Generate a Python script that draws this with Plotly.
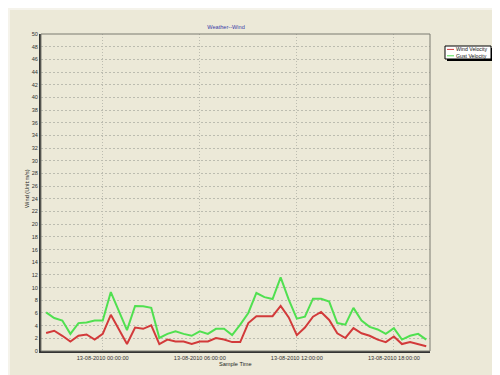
import plotly.graph_objects as go

sample_time = [
    "2010-08-12 20:30", "2010-08-12 21:00", "2010-08-12 21:30", "2010-08-12 22:00",
    "2010-08-12 22:30", "2010-08-12 23:00", "2010-08-12 23:30", "2010-08-13 00:00",
    "2010-08-13 00:30", "2010-08-13 01:00", "2010-08-13 01:30", "2010-08-13 02:00",
    "2010-08-13 02:30", "2010-08-13 03:00", "2010-08-13 03:30", "2010-08-13 04:00",
    "2010-08-13 04:30", "2010-08-13 05:00", "2010-08-13 05:30", "2010-08-13 06:00",
    "2010-08-13 06:30", "2010-08-13 07:00", "2010-08-13 07:30", "2010-08-13 08:00",
    "2010-08-13 08:30", "2010-08-13 09:00", "2010-08-13 09:30", "2010-08-13 10:00",
    "2010-08-13 10:30", "2010-08-13 11:00", "2010-08-13 11:30", "2010-08-13 12:00",
    "2010-08-13 12:30", "2010-08-13 13:00", "2010-08-13 13:30", "2010-08-13 14:00",
    "2010-08-13 14:30", "2010-08-13 15:00", "2010-08-13 15:30", "2010-08-13 16:00",
    "2010-08-13 16:30", "2010-08-13 17:00", "2010-08-13 17:30", "2010-08-13 18:00",
    "2010-08-13 18:30", "2010-08-13 19:00", "2010-08-13 19:30", "2010-08-13 20:00",
]

wind_velocity = [
    2.85, 3.2, 2.4, 1.5, 2.4, 2.6, 1.8, 2.7,
    5.7, 3.4, 1.1, 3.7, 3.5, 4.05, 1.1, 1.8,
    1.5, 1.5, 1.1, 1.5, 1.5, 2.05, 1.8, 1.4,
    1.4, 4.4, 5.5, 5.5, 5.5, 7.1, 5.3, 2.5,
    3.7, 5.4, 6.15, 4.9, 2.8, 2.05, 3.6, 2.8,
    2.4, 1.8, 1.4, 2.3, 1.1, 1.4, 1.1, 0.75,
]

gust_velocity = [
    6.1, 5.2, 4.8, 2.7, 4.4, 4.5, 4.8, 4.8,
    9.3, 6.4, 3.3, 7.1, 7.05, 6.8, 2.05, 2.7,
    3.1, 2.7, 2.4, 3.1, 2.7, 3.5, 3.5, 2.5,
    4.15, 6.0, 9.15, 8.5, 8.2, 11.6, 8.1, 5.1,
    5.4, 8.25, 8.25, 7.8, 4.4, 4.15, 6.8, 4.8,
    3.8, 3.4, 2.7, 3.6, 1.8, 2.4, 2.7, 1.8,
]

series_names = ["Wind Velocity", "Gust Velocity"]
series_colors = ["#d23a3a", "#50e050"]

BG = "#ECE9D8"
FONT = "Liberation Sans, Arial, sans-serif"
W, H = 500, 375
ML, MR, MT, MB = 33, 78, 26, 32
PW, PH = W - ML - MR, H - MT - MB
GRID = "#bcbcb0"


def px_x(x):
    return (x - ML) / PW


def px_y(y):
    return (H - MB - y) / PH


fig = go.Figure()
for name, vals, col in zip(series_names, [wind_velocity, gust_velocity], series_colors):
    fig.add_trace(go.Scatter(x=sample_time, y=vals, mode="lines", name=name,
                             line=dict(color=col, width=2), showlegend=False))

shapes = [
    # outer panel
    dict(type="rect", xref="paper", yref="paper", x0=px_x(2), x1=px_x(498),
         y0=px_y(368), y1=px_y(2), fillcolor=BG, line=dict(width=0), layer="below"),
    # plot border
    dict(type="rect", xref="paper", yref="paper", x0=0, x1=1, y0=0, y1=1,
         line=dict(color="#7a7a70", width=1)),
    # legend shadow
    dict(type="rect", xref="paper", yref="paper", x0=px_x(439), x1=px_x(485),
         y0=px_y(53), y1=px_y(40), fillcolor="#000000", line=dict(width=0)),
    # legend box
    dict(type="rect", xref="paper", yref="paper", x0=px_x(437), x1=px_x(483),
         y0=px_y(51), y1=px_y(38), fillcolor="#ffffff", line=dict(color="#000000", width=1)),
]
annotations = []
for i, (name, col) in enumerate(zip(series_names, series_colors)):
    yy = 41.4 + i * 6.4
    shapes.append(dict(type="line", xref="paper", yref="paper", x0=px_x(439), x1=px_x(446),
                       y0=px_y(yy), y1=px_y(yy), line=dict(color=col, width=1)))
    annotations.append(dict(text=name, xref="paper", yref="paper", x=px_x(446.5), y=px_y(yy),
                            xanchor="left", yanchor="middle", showarrow=False,
                            font=dict(family=FONT, size=5.2, color="#111111")))

annotations.append(dict(text="Wind (Unit:m/s)", xref="paper", yref="paper", x=px_x(19), y=px_y(181),
                        textangle=-90, xanchor="center", yanchor="middle", showarrow=False,
                        font=dict(family=FONT, size=5.6, color="#222222")))
annotations.append(dict(text="Sample Time", xref="paper", yref="paper", x=px_x(228), y=px_y(356),
                        xanchor="center", yanchor="middle", showarrow=False,
                        font=dict(family=FONT, size=5.6, color="#222222")))

fig.update_layout(
    width=W, height=H,
    margin=dict(l=ML, r=MR, t=MT, b=MB),
    paper_bgcolor="#F5F3EB",
    plot_bgcolor=BG,
    title=dict(text="Weather--Wind", x=218 / W, xref="container", xanchor="center",
               y=1 - 19 / H, yref="container", yanchor="middle",
               font=dict(family=FONT, size=5.6, color="#3a3aa8")),
    shapes=shapes,
    annotations=annotations,
    showlegend=False,
)
fig.update_xaxes(
    type="date",
    range=["2010-08-12 20:11", "2010-08-13 20:14"],
    tick0="2010-08-13 00:00:00", dtick=6 * 3600 * 1000,
    tickformat="%d-%m-%Y %H:%M:%S",
    showgrid=True, gridcolor=GRID, griddash="1px,2px", gridwidth=1,
    showline=True, linecolor="#333333", linewidth=2,
    ticks="", zeroline=False,
    tickfont=dict(family=FONT, size=5.6, color="#333333"),
)
fig.update_yaxes(
    range=[0, 50], dtick=2, tick0=0,
    showgrid=True, gridcolor=GRID, griddash="2px,2px", gridwidth=1,
    showline=True, linecolor="#333333", linewidth=2,
    ticks="", zeroline=False,
    tickfont=dict(family=FONT, size=5.6, color="#333333"),
)

fig.write_html("out.html")
